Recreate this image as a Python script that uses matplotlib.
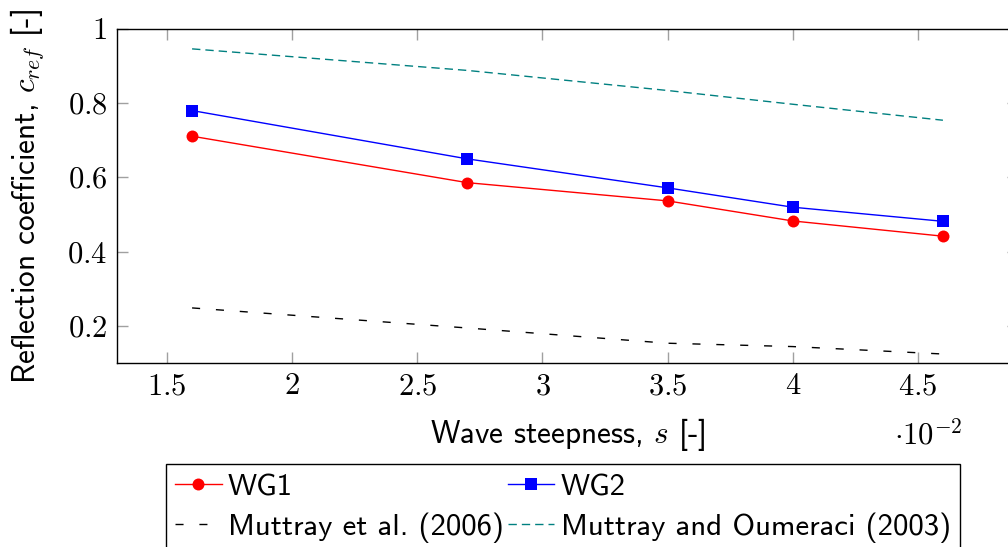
import matplotlib
matplotlib.use('Agg')
import matplotlib.pyplot as plt

# wave steepness s (x 10^-2)
steepness = [1.6, 2.7, 3.5, 4.0, 4.6]

# measured reflection coefficients
wg1 = [0.711, 0.586, 0.537, 0.483, 0.442]
wg2 = [0.780, 0.650, 0.572, 0.520, 0.482]

# empirical formulas
muttray_2006 = [0.249, 0.195, 0.154, 0.145, 0.125]
muttray_oumeraci_2003 = [0.946, 0.888, 0.834, 0.797, 0.754]

xticks = [1.5, 2, 2.5, 3, 3.5, 4, 4.5]
yticks = [0.2, 0.4, 0.6, 0.8, 1.0]

plt.rcParams['mathtext.fontset'] = 'cm'
plt.rcParams['font.family'] = ['cmss10', 'DejaVu Sans']
plt.rcParams['axes.unicode_minus'] = False

W, H = 1008, 547
fig = plt.figure(figsize=(W / 100, H / 100), dpi=100)

# axes box in pixels: left 117, right 1018 (beyond the picture), top 28.8, bottom 363.3
ax = fig.add_axes([117 / W, 1 - 363.3 / H, (1018 - 117) / W, (363.3 - 28.8) / H])

l1, = ax.plot(steepness, wg1, color='red', lw=1.0, marker='o', ms=8.6,
              mec='red', mew=0, label='WG1')
l2, = ax.plot(steepness, wg2, color='blue', lw=1.0, marker='s', ms=8.0,
              mec='blue', mew=0, label='WG2')
l3, = ax.plot(steepness, muttray_2006, color='black', lw=1.0,
              dashes=(5.8, 11.4), label='Muttray et al. (2006)')
l4, = ax.plot(steepness, muttray_oumeraci_2003, color='#008080', lw=1.0,
              dashes=(6.0, 3.6), label='Muttray and Oumeraci (2003)')

ax.set_xlim(1.3, 4.9)
ax.set_ylim(0.1, 1.0)

ax.set_xticks(xticks)
ax.set_xticklabels([f'${t:g}$' for t in xticks])
ax.set_yticks(yticks)
ax.set_yticklabels([f'${t:g}$' for t in yticks])
ax.tick_params(direction='in', length=8, width=1.0, color='#a0a0a0',
               top=True, right=True, labelsize=22, pad=7)
for sp in ax.spines.values():
    sp.set_linewidth(1.0)
    sp.set_color('black')

ax.set_xlabel(r'Wave steepness, $s$ [-]', fontsize=22.5, va='baseline')
ax.xaxis.set_label_coords(567.5 / W, 1 - 443 / H, transform=fig.transFigure)
ax.set_ylabel(r'Reflection coefficient, $c_{ref}$ [-]', fontsize=22.5, va='baseline')
ax.yaxis.set_label_coords(36 / W, 1 - 196 / H, transform=fig.transFigure)

fig.text(928 / W, 1 - 444 / H, r'$\cdot 10^{-2}$', fontsize=22,
         ha='center', va='baseline')

leg = ax.legend([l1, l3, l2, l4],
                [l1.get_label(), l3.get_label(), l2.get_label(), l4.get_label()],
                ncol=2, loc='upper left',
                bbox_to_anchor=(166 / W, 1 - 464.3 / H),
                bbox_transform=fig.transFigure, borderaxespad=0,
                fontsize=22.2, frameon=True, fancybox=False, framealpha=1,
                edgecolor='black', borderpad=0.3, handlelength=1.5,
                handletextpad=0.2, columnspacing=0.15, labelspacing=0.36)
leg.get_frame().set_linewidth(1.0)

fig.savefig('out.png', dpi=100)
